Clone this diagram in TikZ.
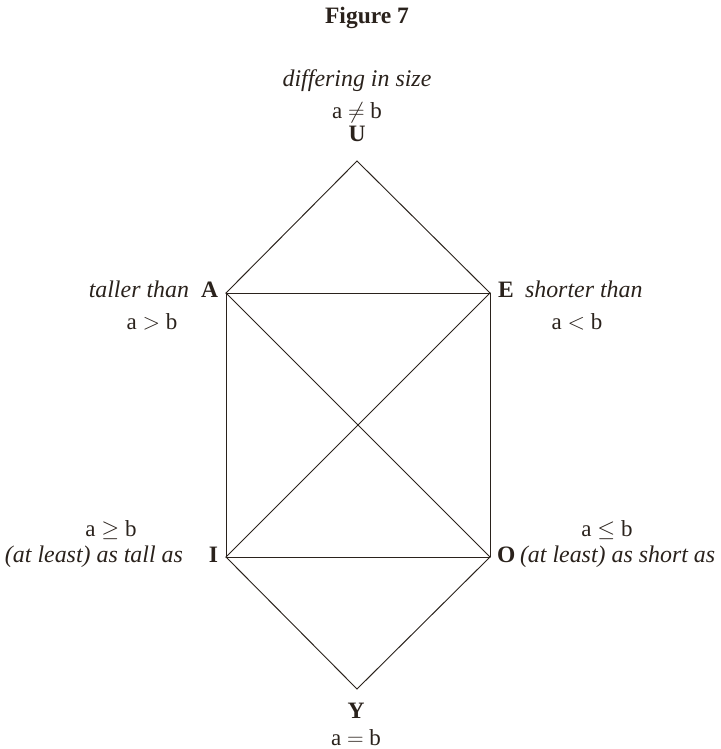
\RequirePackage{fix-cm}
\documentclass[tikz,border=0pt]{standalone}
\usepackage{fontspec}
\setmainfont{Liberation Serif}
\definecolor{ink}{HTML}{2A221C}
\tikzset{
  lbl/.style={inner sep=0pt, outer sep=0pt, text=ink, font=\fontsize{23}{27}\selectfont},
  vlbl/.style={lbl, font=\fontsize{23.5}{27}\selectfont\bfseries},
  ilbl/.style={lbl, font=\fontsize{23.9}{27}\selectfont\itshape},
  edge/.style={draw=ink, line width=0.95pt, line cap=round, line join=round}
}
\begin{document}
\begin{tikzpicture}[x=1pt,y=-1pt]
\useasboundingbox (0,0) rectangle (720,749);
% corners
\coordinate (U) at (357,161);
\coordinate (A) at (226,293);
\coordinate (E) at (490,293);
\coordinate (I) at (226,557);
\coordinate (O) at (490,557);
\coordinate (Y) at (357,689);
% edges
\draw[edge] (U) -- (A);
\draw[edge] (U) -- (E);
\draw[edge] (A) -- (E);
\draw[edge] (A) -- (I);
\draw[edge] (E) -- (O);
\draw[edge] (A) -- (O);
\draw[edge] (E) -- (I);
\draw[edge] (I) -- (O);
\draw[edge] (I) -- (Y);
\draw[edge] (O) -- (Y);
% title
\node[vlbl, anchor=base] (title) at (367,24) {Figure 7};
% U
\node[ilbl, anchor=base] (Udesc) at (357,87) {differing in size};
\node[lbl, anchor=base] (Urel) at (357,118) {a $\neq$ b};
\node[vlbl, anchor=base] (Ulab) at (357,142) {U};
% A
\node[vlbl, anchor=base east] (Alab) at (218,297) {A};
\node[ilbl, anchor=base east] (Adesc) at (189,297) {taller than};
\node[lbl, anchor=base] (Arel) at (152,329) {a $>$ b};
% E
\node[vlbl, anchor=base west] (Elab) at (498,297) {E};
\node[ilbl, anchor=base west] (Edesc) at (525,297) {shorter than};
\node[lbl, anchor=base] (Erel) at (577,329) {a $<$ b};
% I
\node[lbl, anchor=base] (Irel) at (111,536) {a $\geq$ b};
\node[ilbl, anchor=base west] (Idesc) at (5,562) {(at least) as tall as};
\node[vlbl, anchor=base east] (Ilab) at (218,562) {I};
% O
\node[lbl, anchor=base] (Orel) at (607,536) {a $\leq$ b};
\node[vlbl, anchor=base west] (Olab) at (497,562) {O};
\node[ilbl, anchor=base west] (Odesc) at (520,562) {(at least) as short as};
% Y
\node[vlbl, anchor=base] (Ylab) at (356,718) {Y};
\node[lbl, anchor=base] (Yrel) at (356,745) {a $=$ b};
\end{tikzpicture}
\end{document}
